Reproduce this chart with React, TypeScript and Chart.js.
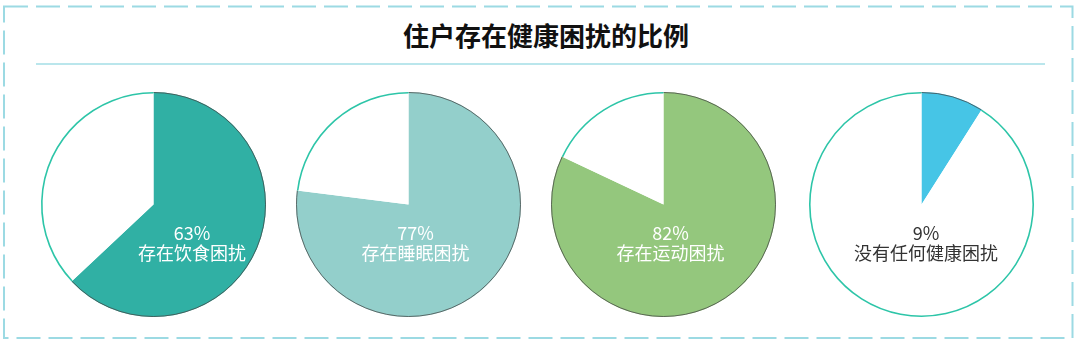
import React, { useEffect, useRef } from "react";
import { Chart, registerables } from "chart.js";

Chart.register(...registerables);

const TITLE = "住户存在健康困扰的比例";
const categories = ["存在饮食困扰", "存在睡眠困扰", "存在运动困扰", "没有任何健康困扰"];
const percentages = [63, 77, 82, 9];
const percentLabels = ["63%", "77%", "82%", "9%"];

// styles / layout (kept separate from data)
const fillColors = ["#30B0A4", "#93CFCB", "#94C77D", "#46C5E6"];
const labelColors = ["#ffffff", "#ffffff", "#ffffff", "#333333"];
const centersX = [153, 408.5, 663.5, 921];
const labelOffsetX = [39, 7, 7, 5];
const CENTER_Y = 204.5;
const CANVAS_SIZE = 229;
const OUTLINE = "#2DC5A8";

const outlinePlugin = {
  id: "outline",
  afterDatasetsDraw(chart: any) {
    const ctx = chart.ctx;
    const meta = chart.getDatasetMeta(0);
    meta.data.forEach((arc: any, i: number) => {
      const lw = i === 0 ? 1 : 1.6;
      ctx.save();
      ctx.beginPath();
      ctx.arc(arc.x, arc.y, arc.outerRadius - lw / 2, arc.startAngle, arc.endAngle);
      ctx.lineWidth = lw;
      ctx.strokeStyle = i === 0 ? "rgba(70,70,70,0.75)" : OUTLINE;
      ctx.stroke();
      ctx.restore();
    });
  },
};

function Pie({ idx }: { idx: number }) {
  const ref = useRef<HTMLCanvasElement | null>(null);
  useEffect(() => {
    if (!ref.current) return;
    const chart = new Chart(ref.current, {
      type: "pie",
      data: {
        labels: [categories[idx], "其他"],
        datasets: [
          {
            data: [percentages[idx], 100 - percentages[idx]],
            backgroundColor: [fillColors[idx], "#ffffff"],
            borderWidth: 0,
          },
        ],
      },
      options: {
        responsive: false,
        animation: false,
        devicePixelRatio: 1,
        layout: { padding: 2 },
        plugins: { legend: { display: false }, tooltip: { enabled: false } },
      },
      plugins: [outlinePlugin],
    });
    return () => chart.destroy();
  }, [idx]);
  const cx = centersX[idx];
  return (
    <>
      <canvas
        ref={ref}
        width={CANVAS_SIZE}
        height={CANVAS_SIZE}
        style={{
          position: "absolute",
          left: cx - CANVAS_SIZE / 2,
          top: CENTER_Y - CANVAS_SIZE / 2,
          width: CANVAS_SIZE,
          height: CANVAS_SIZE,
        }}
      />
      <div
        style={{
          position: "absolute",
          left: cx + labelOffsetX[idx] - 100,
          width: 200,
          top: 223,
          textAlign: "center",
          fontFamily: '"Noto Sans CJK SC", "Noto Sans", sans-serif',
          fontSize: 18,
          lineHeight: "19.5px",
          color: labelColors[idx],
          pointerEvents: "none",
        }}
      >
        <div>{percentLabels[idx]}</div>
        <div>{categories[idx]}</div>
      </div>
    </>
  );
}

export default function App() {
  useEffect(() => {
    document.body.style.margin = "0";
  }, []);
  return (
    <div style={{ position: "absolute", left: 0, top: 0, width: 1080, height: 344, background: "#ffffff", overflow: "hidden" }}>
      <svg width={1080} height={344} style={{ position: "absolute", left: 0, top: 0 }}>
        <rect x={4} y={6.5} width={1068.5} height={331.5} fill="none" stroke="#9CDAE3" strokeWidth={2} strokeDasharray="24 8" />
        <line x1={36} y1={64} x2={1045} y2={64} stroke="#A3DEE6" strokeWidth={1.6} />
      </svg>
      <div
        style={{
          position: "absolute",
          left: 346,
          width: 400,
          top: 20,
          textAlign: "center",
          fontFamily: '"Noto Sans CJK SC", sans-serif',
          fontWeight: 700,
          fontSize: 26,
          lineHeight: "30px",
          color: "#111111",
        }}
      >
        {TITLE}
      </div>
      {percentages.map((_, i) => (
        <Pie key={i} idx={i} />
      ))}
    </div>
  );
}
